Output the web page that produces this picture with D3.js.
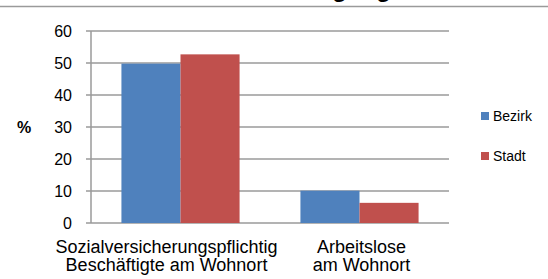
<!DOCTYPE html>
<html>
<head>
<meta charset="utf-8">
<script src="https://cdn.jsdelivr.net/npm/d3@7"></script>
<style>
  body { margin: 0; background: #fff; }
  svg { display: block; font-family: "Liberation Sans", Arial, sans-serif; }
</style>
</head>
<body>
<div id="chart"></div>
<script>
// chart data
var categories = [
  ['Sozialversicherungspflichtig', 'Beschäftigte am Wohnort'],
  ['Arbeitslose', 'am Wohnort']
];
var seriesNames = ['Bezirk', 'Stadt'];
var bezirkValues = [49.8, 10.1];
var stadtValues = [52.7, 6.3];
var yTicks = [0, 10, 20, 30, 40, 50, 60];
var colors = ['#4F81BD', '#C0504D'];

var width = 548, height = 279;
var margins = {left: 91, right: 99, top: 31, bottom: 56};

var svg = d3.select('#chart').append('svg')
            .attr('width', width)
            .attr('height', height);

// title sits mostly above the visible area, only its descenders show
svg.append('text')
   .attr('x', 391)
   .attr('y', -3)
   .attr('text-anchor', 'end')
   .style('font-size', '24px')
   .style('font-weight', 'bold')
   .text('Beschäftigung');

svg.append('line')
   .attr('x1', 0).attr('x2', width)
   .attr('y1', 6.5).attr('y2', 6.5)
   .attr('stroke', '#9a9a9a')
   .attr('stroke-width', 1.5);

var x0 = d3.scaleBand()
           .domain(d3.range(categories.length))
           .range([margins.left, width - margins.right])
           .paddingInner(0.34)
           .paddingOuter(0.17);

var x1 = d3.scaleBand()
           .domain(seriesNames)
           .range([0, x0.bandwidth()]);

var y = d3.scaleLinear()
          .domain([0, 60])
          .range([height - margins.bottom, margins.top]);

// gridlines
svg.append('g').selectAll('line').data(yTicks)
   .enter().append('line')
   .attr('x1', margins.left - 5)
   .attr('x2', width - margins.right)
   .attr('y1', function(d) { return y(d); })
   .attr('y2', function(d) { return y(d); })
   .attr('stroke', '#9a9a9a')
   .attr('stroke-width', 1.5);

// vertical axis line
svg.append('line')
   .attr('x1', margins.left).attr('x2', margins.left)
   .attr('y1', y(60)).attr('y2', y(0))
   .attr('stroke', '#9a9a9a')
   .attr('stroke-width', 1.5);

// tick labels
svg.append('g').selectAll('text').data(yTicks)
   .enter().append('text')
   .attr('x', margins.left - 19)
   .attr('y', function(d) { return y(d); })
   .attr('dy', '0.35em')
   .attr('text-anchor', 'end')
   .style('font-size', '16px')
   .text(function(d) { return d; });

svg.append('text')
   .attr('x', 24)
   .attr('y', y(30))
   .attr('dy', '0.4em')
   .attr('text-anchor', 'middle')
   .style('font-size', '16px')
   .style('font-weight', 'bold')
   .text('%');

// bars: one group per category, one bar per series
var rows = categories.map(function(c, i) {
  return [bezirkValues[i], stadtValues[i]];
});

var groups = svg.append('g').selectAll('g').data(rows)
   .enter().append('g')
   .attr('transform', function(d, i) { return 'translate(' + x0(i) + ',0)'; });

groups.selectAll('rect')
   .data(function(d) { return d.map(function(v, j) { return {name: seriesNames[j], value: v, j: j}; }); })
   .enter().append('rect')
   .attr('x', function(d) { return x1(d.name); })
   .attr('y', function(d) { return y(d.value); })
   .attr('width', x1.bandwidth())
   .attr('height', function(d) { return y(0) - y(d.value); })
   .attr('fill', function(d) { return colors[d.j]; });

// category labels
var labels = svg.append('g').selectAll('text').data(categories)
   .enter().append('text')
   .attr('text-anchor', 'middle')
   .style('font-size', '18px')
   .attr('transform', function(d, i) {
     var dx = i === 0 ? -14 : 2;
     return 'translate(' + (x0(i) + x0.bandwidth() / 2 + dx) + ',0)';
   });

labels.selectAll('tspan')
   .data(function(d) { return d; })
   .enter().append('tspan')
   .attr('x', 0)
   .attr('y', function(d, k) { return 253 + k * 17.5; })
   .text(function(d) { return d; });

// legend
var legend = svg.append('g').selectAll('g').data(seriesNames)
   .enter().append('g')
   .attr('transform', function(d, i) { return 'translate(481,' + (112 + i * 40) + ')'; });

legend.append('rect')
   .attr('width', 8).attr('height', 8)
   .attr('fill', function(d, i) { return colors[i]; });

legend.append('text')
   .attr('x', 12)
   .attr('y', 9)
   .style('font-size', '14px')
   .text(function(d) { return d; });
</script>
</body>
</html>
